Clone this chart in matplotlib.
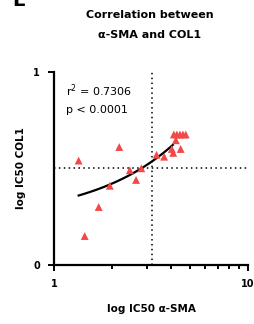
import numpy as np
import matplotlib
matplotlib.use("Agg")
import matplotlib.pyplot as plt
from matplotlib.ticker import FixedLocator, NullFormatter

# log IC50 values
sma = [1.34, 1.44, 1.70, 1.94, 2.17, 2.46, 2.65, 2.82, 3.38, 3.70,
       4.05, 4.12, 4.50, 4.25, 4.15, 4.30, 4.46, 4.62, 4.78]
col1 = [0.54, 0.15, 0.30, 0.41, 0.61, 0.49, 0.44, 0.50, 0.57, 0.56,
        0.60, 0.58, 0.60, 0.645, 0.675, 0.675, 0.675, 0.675, 0.675]
cut_x = 3.22
cut_y = 0.50

plt.rcParams['font.family'] = ['DejaVu Sans']

fig = plt.figure(figsize=(2.54, 3.24), dpi=100)
ax = fig.add_axes([0.2126, 0.182, 0.7634, 0.597])

# linear fit, drawn on the log x axis
b, a = np.polyfit(sma, col1, 1)
xs = np.linspace(min(sma), 4.1, 100)
ax.plot(xs, a + b * xs, color='black', lw=1.6, zorder=3)

ax.scatter(sma, col1, marker='^', s=32, color='#f24848', edgecolors='none', zorder=4)

ax.axvline(cut_x, color='black', ls=(0, (1, 2.2)), lw=1.1, zorder=2)
ax.axhline(cut_y, color='black', ls=(0, (1, 2.2)), lw=1.1, zorder=2)

ax.set_xscale('log')
ax.set_xlim(1, 10)
ax.set_ylim(0, 1)
ax.xaxis.set_major_locator(FixedLocator([1, 10]))
ax.xaxis.set_minor_locator(FixedLocator([2, 3, 4, 5, 6, 7, 8, 9]))
ax.xaxis.set_minor_formatter(NullFormatter())
ax.set_xticks([1, 10])
ax.set_xticklabels(['1', '10'])
ax.set_yticks([0, 1])
ax.set_yticklabels(['0', '1'])

for s in ['top', 'right']:
    ax.spines[s].set_visible(False)
for s in ['left', 'bottom']:
    ax.spines[s].set_linewidth(1.6)
ax.tick_params(which='major', direction='out', length=4, width=1.4, labelsize=7, pad=6)
ax.tick_params(which='minor', direction='out', length=3, width=1.4)
for lbl in ax.get_xticklabels() + ax.get_yticklabels():
    lbl.set_fontweight('bold')

ax.text(0.06, 0.90, 'r$^2$ = 0.7306', transform=ax.transAxes, fontsize=8, va='center')
ax.text(0.06, 0.80, 'p < 0.0001', transform=ax.transAxes, fontsize=8, va='center')

ax.set_xlabel('log IC50 α-SMA', fontsize=7.5, fontweight='bold', labelpad=11)
ax.set_ylabel('log IC50 COL1', fontsize=7.5, fontweight='bold', labelpad=5)

fig.text(0.59, 0.955, 'Correlation between', ha='center', va='center',
         fontsize=8, fontweight='bold')
fig.text(0.59, 0.893, 'α-SMA and COL1', ha='center', va='center',
         fontsize=8, fontweight='bold')
# panel letter, cropped at the top like in the source figure
fig.text(0.075, 1.0, 'E', ha='center', va='center', fontsize=14, fontweight='bold')

fig.savefig('out.png', dpi=100)
